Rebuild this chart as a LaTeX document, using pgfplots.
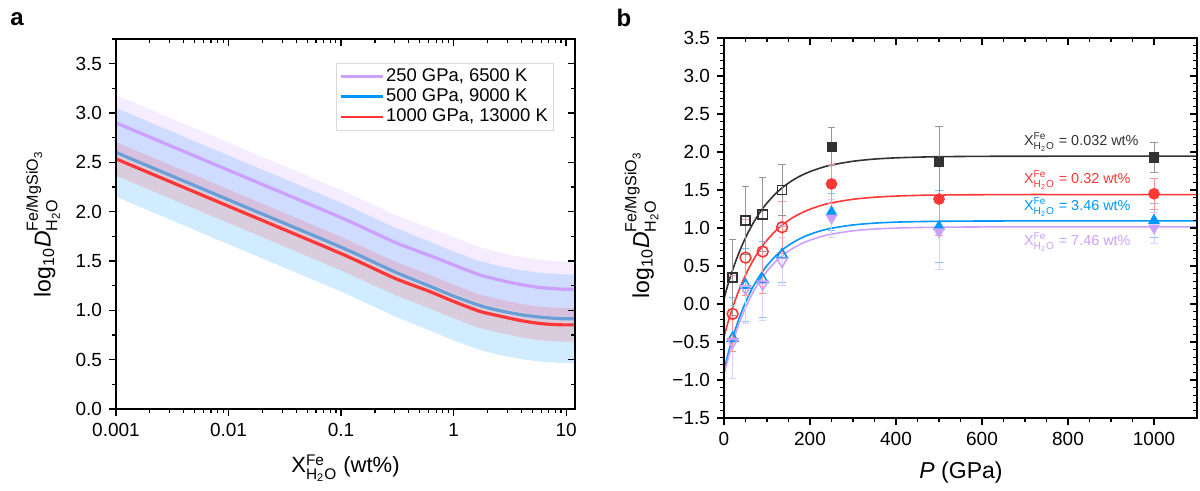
\documentclass[border=0pt]{standalone}
\usepackage{fontspec}
\setmainfont{Liberation Sans}
\usepackage{amsmath}
\usepackage{pgfplots}
\usepackage{pgfplotstable}
\pgfplotsset{compat=1.18}
\usepgfplotslibrary{fillbetween}

\definecolor{cpur}{RGB}{204,160,255}
\definecolor{cblu}{RGB}{0,150,255}
\definecolor{cblumute}{RGB}{105,158,215}
\definecolor{cred}{RGB}{255,55,55}
\definecolor{cblk}{RGB}{50,50,50}
\definecolor{epur}{RGB}{222,205,255}
\definecolor{eblu}{RGB}{125,195,255}
\definecolor{ered}{RGB}{255,150,150}
\definecolor{eblk}{RGB}{150,150,150}

\pgfplotstableread{
x p pu pl b bu bl r ru rl
0.001 2.90 3.18 2.62 2.60 3.05 2.15 2.535 2.705 2.365
0.01 2.42 2.70 2.14 2.12 2.57 1.67 2.055 2.225 1.885
0.1 1.94 2.22 1.66 1.64 2.09 1.19 1.575 1.745 1.405
0.3 1.69 1.97 1.41 1.39 1.84 0.94 1.325 1.495 1.155
0.6 1.56 1.84 1.28 1.25 1.70 0.80 1.195 1.365 1.025
1 1.46 1.74 1.18 1.145 1.595 0.695 1.09 1.26 0.92
1.7 1.36 1.64 1.08 1.05 1.50 0.60 0.99 1.16 0.82
2.5 1.31 1.59 1.03 1.00 1.45 0.55 0.945 1.115 0.775
4 1.26 1.54 0.98 0.955 1.405 0.505 0.895 1.065 0.725
6 1.23 1.51 0.95 0.93 1.38 0.48 0.865 1.035 0.695
9 1.215 1.495 0.935 0.915 1.365 0.465 0.853 1.023 0.683
12 1.215 1.495 0.935 0.915 1.365 0.465 0.853 1.023 0.683
}\tabA

\pgfplotstableread{
P k r b p
0 0.074 -0.430 -0.865 -0.930
10 0.271 -0.229 -0.643 -0.709
20 0.447 -0.050 -0.446 -0.514
30 0.604 0.110 -0.271 -0.340
40 0.745 0.253 -0.116 -0.186
50 0.871 0.380 0.021 -0.050
60 0.984 0.494 0.143 0.071
70 1.085 0.596 0.251 0.178
80 1.176 0.687 0.346 0.273
90 1.257 0.768 0.431 0.357
100 1.329 0.840 0.506 0.432
120 1.452 0.962 0.632 0.557
140 1.550 1.059 0.731 0.655
160 1.629 1.137 0.808 0.732
180 1.692 1.198 0.869 0.793
200 1.742 1.247 0.917 0.840
225 1.791 1.295 0.963 0.886
250 1.829 1.331 0.997 0.919
300 1.878 1.378 1.040 0.963
350 1.907 1.405 1.064 0.986
400 1.923 1.420 1.077 0.999
450 1.932 1.429 1.084 1.006
500 1.938 1.434 1.088 1.010
600 1.943 1.438 1.092 1.014
700 1.944 1.440 1.093 1.015
800 1.945 1.440 1.093 1.015
1100 1.945 1.440 1.093 1.015
}\tabFit

\pgfplotstableread{
P y e
20 0.35 0.50
50 1.10 0.45
90 1.18 0.49
135 1.50 0.34
}\blkO
\pgfplotstableread{
P y e
250 2.07 0.25
500 1.87 0.47
1000 1.93 0.20
}\blkF
\pgfplotstableread{
P y e
20 -0.13 0.50
50 0.61 0.50
90 0.69 0.55
135 1.01 0.34
}\redO
\pgfplotstableread{
P y e
250 1.58 0.26
500 1.38 0.48
1000 1.45 0.20
}\redF
\pgfplotstableread{
P y e
20 -0.45 0.53
50 0.25 0.48
90 0.32 0.50
135 0.65 0.37
}\bluO
\pgfplotstableread{
P y e
250 1.21 0.24
500 1.02 0.47
1000 1.10 0.22
}\bluF
\pgfplotstableread{
P y e
20 -0.50 0.48
50 0.20 0.45
90 0.26 0.48
135 0.56 0.32
}\purO
\pgfplotstableread{
P y e
250 1.13 0.25
500 0.95 0.49
1000 1.00 0.20
}\purF

\pgfplotsset{
  common/.style={scale only axis, axis line style={line width=0.8pt},
    every tick/.style={black, line width=0.6pt},
    major tick length=3.5pt, minor tick length=2pt,
    tick label style={font=\fontsize{9.5}{10.5}\selectfont}},
  Aaxis/.style={common, at={(58pt,41pt)}, anchor=south west,
    width=229.5pt, height=185pt,
    xmin=0.001, xmax=12, ymin=0, ymax=3.75,
    xtick={0.001,0.01,0.1,1,10},
    minor xtick={0.002,0.003,0.004,0.005,0.006,0.007,0.008,0.009,0.02,0.03,0.04,0.05,0.06,0.07,0.08,0.09,0.2,0.3,0.4,0.5,0.6,0.7,0.8,0.9,2,3,4,5,6,7,8,9},
    ytick={0,0.5,1,1.5,2,2.5,3,3.5},
    minor ytick={0.25,0.75,1.25,1.75,2.25,2.75,3.25,3.75}},
  Baxis/.style={common, at={(362pt,36.5pt)}, anchor=south west,
    width=236.5pt, height=190pt,
    xmin=0, xmax=1100, ymin=-1.5, ymax=3.5,
    xtick={0,200,400,600,800,1000}, minor x tick num=3,
    ytick={-1.5,-1,-0.5,0,0.5,1,1.5,2,2.5,3,3.5}, minor y tick num=4},
  ebar/.style={error bars/.cd, y dir=both, y explicit,
    error bar style={#1, line width=0.45pt},
    error mark options={rotate=90, #1, mark size=1.8pt, line width=0.45pt}},
}

\begin{document}
\begin{tikzpicture}

% ---------- panel a ----------
\begin{axis}[xmode=log, log basis x=10, Aaxis, tick pos=left, tick align=outside,
  xticklabels={0.001,0.01,0.1,1,10},
  yticklabels={0.0,0.5,1.0,1.5,2.0,2.5,3.0,3.5},
  legend style={at={(0.953,0.935)}, anchor=north east, draw=black!15,
    font=\fontsize{9.2}{10}\selectfont, inner sep=1.5pt, row sep=0pt,
    nodes={inner sep=1.1pt}},
  legend cell align=left,
  legend image code/.code={\draw[#1, line width=1.4pt] (0pt,0pt) -- (21pt,0pt);}]
\addplot[name path=pu, draw=none, forget plot] table[x=x,y=pu]{\tabA};
\addplot[name path=pl, draw=none, forget plot] table[x=x,y=pl]{\tabA};
\addplot[name path=bu, draw=none, forget plot] table[x=x,y=bu]{\tabA};
\addplot[name path=bl, draw=none, forget plot] table[x=x,y=bl]{\tabA};
\addplot[name path=ru, draw=none, forget plot] table[x=x,y=ru]{\tabA};
\addplot[name path=rl, draw=none, forget plot] table[x=x,y=rl]{\tabA};
\addplot[fill=cblu, fill opacity=0.18, draw=none, forget plot] fill between[of=bu and bl];
\addplot[fill=cpur, fill opacity=0.20, draw=none, forget plot] fill between[of=pu and pl];
\addplot[cblumute, line width=1.6pt, smooth, tension=0.4, forget plot] table[x=x,y=b]{\tabA};
\addplot[fill=cred, fill opacity=0.17, draw=none, forget plot] fill between[of=ru and rl];
\addplot[cred, line width=1.6pt, smooth, tension=0.4, forget plot] table[x=x,y=r]{\tabA};
\addplot[cpur, line width=1.6pt, smooth, tension=0.4, forget plot] table[x=x,y=p]{\tabA};
\addlegendimage{cpur}
\addlegendentry{250 GPa, 6500 K}
\addlegendimage{cblu}
\addlegendentry{500 GPa, 9000 K}
\addlegendimage{cred}
\addlegendentry{1000 GPa, 13000 K}
\end{axis}
\begin{axis}[xmode=log, log basis x=10, Aaxis, tick pos=right, tick align=inside,
  xticklabels={}, yticklabels={}]
\addplot[draw=none, forget plot] table[x=x,y=p]{\tabA};
\end{axis}

% ---------- panel b ----------
\begin{axis}[Baxis, tick pos=left, tick align=outside,
  xticklabels={0,200,400,600,800,1000},
  yticklabels={−1.5,−1.0,−0.5,0.0,0.5,1.0,1.5,2.0,2.5,3.0,3.5}]
\addplot[cblk, line width=0.8pt, smooth] table[x=P,y=k]{\tabFit};
\addplot[cred, line width=0.8pt, smooth] table[x=P,y=r]{\tabFit};
\addplot[cblu, line width=0.8pt, smooth] table[x=P,y=b]{\tabFit};
\addplot[cpur, line width=0.8pt, smooth] table[x=P,y=p]{\tabFit};

\addplot[only marks, mark=triangle, mark size=3pt,
  mark options={draw=cblu, fill=white, line width=0.8pt}, ebar=eblu]
  table[x=P,y=y,y error=e]{\bluO};
\addplot[only marks, mark=triangle*, mark size=3pt,
  mark options={draw=cblu, fill=cblu}, ebar=eblu]
  table[x=P,y=y,y error=e]{\bluF};
\addplot[only marks, mark=triangle, mark size=3pt,
  mark options={rotate=180, draw=cpur, fill=white, line width=0.8pt}, ebar=epur]
  table[x=P,y=y,y error=e]{\purO};
\addplot[only marks, mark=triangle*, mark size=3pt,
  mark options={rotate=180, draw=cpur, fill=cpur}, ebar=epur]
  table[x=P,y=y,y error=e]{\purF};
\addplot[only marks, mark=o, mark size=2.7pt,
  mark options={draw=cred, fill=white, line width=0.8pt}, ebar=ered]
  table[x=P,y=y,y error=e]{\redO};
\addplot[only marks, mark=*, mark size=2.7pt,
  mark options={draw=cred, fill=cred}, ebar=ered]
  table[x=P,y=y,y error=e]{\redF};
\addplot[only marks, mark=square, mark size=2.3pt,
  mark options={draw=cblk, fill=white, line width=0.8pt}, ebar=eblk]
  table[x=P,y=y,y error=e]{\blkO};
\addplot[only marks, mark=square*, mark size=2.3pt,
  mark options={draw=cblk, fill=cblk}, ebar=eblk]
  table[x=P,y=y,y error=e]{\blkF};

\node[anchor=west, text=cblk, font=\fontsize{7.2}{8}\selectfont, inner sep=0pt] at (axis cs:697,2.13)
  {X$^{\text{Fe}}_{\text{H}_{\text{2}}\text{O}}$ = 0.032 wt\%};
\node[anchor=west, text=cred, font=\fontsize{7.2}{8}\selectfont, inner sep=0pt] at (axis cs:697,1.63)
  {X$^{\text{Fe}}_{\text{H}_{\text{2}}\text{O}}$ = 0.32 wt\%};
\node[anchor=west, text=cblu, font=\fontsize{7.2}{8}\selectfont, inner sep=0pt] at (axis cs:697,1.28)
  {X$^{\text{Fe}}_{\text{H}_{\text{2}}\text{O}}$ = 3.46 wt\%};
\node[anchor=west, text=cpur, font=\fontsize{7.2}{8}\selectfont, inner sep=0pt] at (axis cs:697,0.82)
  {X$^{\text{Fe}}_{\text{H}_{\text{2}}\text{O}}$ = 7.46 wt\%};
\end{axis}
\begin{axis}[Baxis, tick pos=right, tick align=inside,
  xticklabels={}, yticklabels={}]
\addplot[draw=none, forget plot] table[x=P,y=k]{\tabFit};
\end{axis}

% ---------- labels ----------
\node[font=\bfseries\fontsize{12}{14}\selectfont] at (8.5pt,236pt) {a};
\node[font=\bfseries\fontsize{12}{14}\selectfont] at (312pt,236.5pt) {b};
\node[font=\fontsize{11}{13}\selectfont] at (172.75pt,11.5pt)
  {X$^{\text{Fe}}_{\text{H}_{\text{2}}\text{O}}$ (wt\%)};
\node[font=\fontsize{11.5}{13}\selectfont] at (480.5pt,9pt) {\textit{P} (GPa)};
\node[rotate=90, font=\fontsize{11.5}{13}\selectfont] at (21.5pt,133.5pt)
  {log$_{\text{10}}$\textit{D}$^{\text{Fe/MgSiO}_{\text{3}}}_{\text{H}_{\text{2}}\text{O}}$};
\node[rotate=90, font=\fontsize{11.5}{13}\selectfont] at (320.75pt,133pt)
  {log$_{\text{10}}$\textit{D}$^{\text{Fe/MgSiO}_{\text{3}}}_{\text{H}_{\text{2}}\text{O}}$};

\pgfresetboundingbox
\path[use as bounding box] (0,0) rectangle (600pt,245.5pt);
\end{tikzpicture}
\end{document}
